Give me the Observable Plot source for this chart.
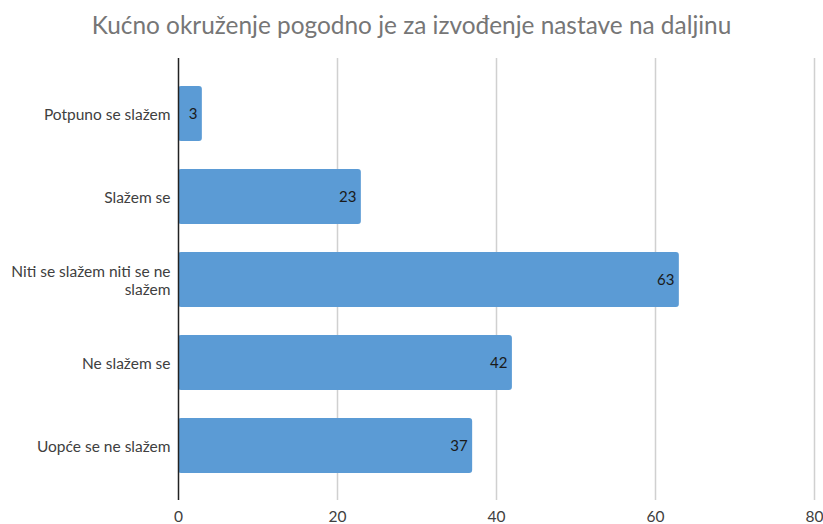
<!DOCTYPE html>
<html>
<head>
<meta charset="utf-8">
<script src="https://cdn.jsdelivr.net/npm/d3@7"></script>
<script src="https://cdn.jsdelivr.net/npm/@observablehq/plot@0.6"></script>
<style>
  body { margin: 0; background: #fff; font-family: Lato, "Open Sans", sans-serif; }
  #title { height: 46px; line-height: 50px; text-align: center; font-size: 24.4px; color: #767676; width: 823px; }
</style>
</head>
<body>
<div id="title">Kućno okruženje pogodno je za izvođenje nastave na daljinu</div>
<div id="chart"></div>
<script>
const categories = ["Potpuno se slažem", "Slažem se", "Niti se slažem niti se ne slažem", "Ne slažem se", "Uopće se ne slažem"];
const values = [3, 23, 63, 42, 37];
const tickLabels = ["Potpuno se slažem", "Slažem se", "Niti se slažem niti se ne\nslažem", "Ne slažem se", "Uopće se ne slažem"];
const xTicks = [0, 20, 40, 60, 80];

const data = categories.map((c, i) => ({category: c, value: values[i]}));
const labelOf = new Map(categories.map((c, i) => [c, tickLabels[i]]));

const chart = Plot.plot({
  width: 823,
  height: 478,
  marginTop: 12,
  marginBottom: 24,
  marginLeft: 178,
  marginRight: 9,
  style: {fontFamily: "Lato, 'Open Sans', sans-serif", fontSize: "15.5px", color: "#404040"},
  x: {domain: [0, 80], ticks: xTicks, grid: false, label: null},
  y: {domain: categories, paddingInner: 0.34, paddingOuter: 0.17, insetTop: 14, insetBottom: 13, label: null},
  marks: [
    Plot.gridX(xTicks.filter(d => d > 0), {stroke: "#d0d0d0", strokeOpacity: 1, strokeWidth: 1.5}),
    Plot.barX(data, {x: "value", y: "category", fill: "#5B9BD5", rx: 3}),
    Plot.ruleX([0], {stroke: "#222", strokeWidth: 1.5}),
    Plot.text(data, {x: "value", y: "category", text: d => String(d.value), textAnchor: "end", dx: -5, fill: "#1a1a1a", fontSize: 15}),
    Plot.axisX({ticks: xTicks, tickSize: 0, tickPadding: 10, label: null, fontSize: 15.5, fill: "#404040"}),
    Plot.axisY({tickSize: 0, tickPadding: 8, label: null, tickFormat: d => labelOf.get(d), fontSize: 15.5, fill: "#404040", lineHeight: 1.15})
  ]
});
document.getElementById("chart").appendChild(chart);
</script>
</body>
</html>
